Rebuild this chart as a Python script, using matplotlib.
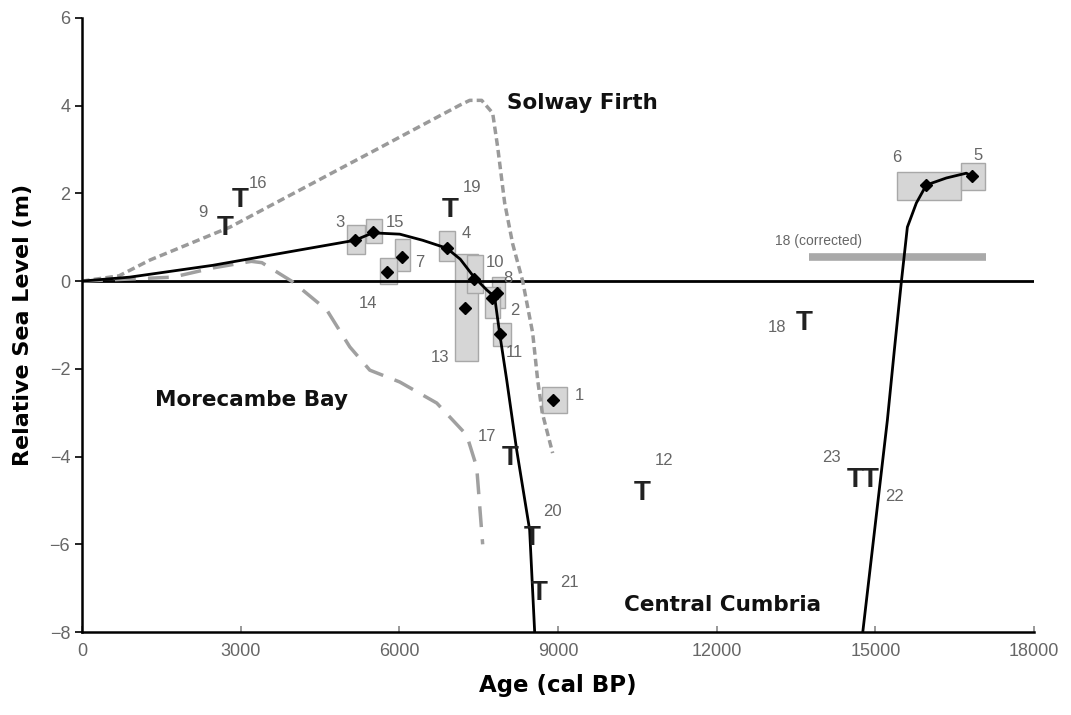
import numpy as np
import matplotlib
matplotlib.use("Agg")
import matplotlib.pyplot as plt
from matplotlib.patches import Rectangle

# curves (age cal BP, relative sea level m)
main_age = [0, 900, 2474, 4118, 5157, 5497, 6007, 6441, 6895, 7150, 7405, 7650, 7800, 7896, 8028, 8217, 8462, 8557]
main_rsl = [0, 0.09, 0.36, 0.71, 0.93, 1.10, 1.07, 0.93, 0.75, 0.50, 0.10, -0.20, -0.36, -1.20, -2.25, -3.85, -5.67, -8.0]

cumbria_age = [14760, 15225, 15357, 15489, 15603, 15773, 15961, 16339, 16717, 16830]
cumbria_rsl = [-8.0, -3.17, -1.57, -0.02, 1.23, 1.78, 2.19, 2.35, 2.46, 2.39]

solway_age = [0, 700, 1284, 2796, 5062, 5629, 7140, 7329, 7555, 7763, 7858, 7990, 8141, 8330, 8519, 8613, 8700, 8897]
solway_rsl = [0, 0.12, 0.48, 1.23, 2.68, 3.04, 4.01, 4.12, 4.12, 3.83, 3.05, 1.78, 0.85, 0.0, -1.18, -2.25, -3.0, -3.92]

morecambe_age = [0, 1719, 2474, 3200, 3400, 3986, 4628, 5062, 5440, 6007, 6706, 7272, 7461, 7574]
morecambe_rsl = [0, 0.09, 0.30, 0.45, 0.42, -0.02, -0.66, -1.50, -2.03, -2.30, -2.78, -3.51, -4.24, -6.0]

# index points: id, age, rsl, box age min/max, box rsl min/max
pt_id = ['3', '15', '7', '14', '4', '13', '10', '8', '2', '11', '1', '6', '5']
pt_age = [5157, 5497, 6045, 5761, 6895, 7235, 7405, 7839, 7745, 7896, 8897, 15961, 16830]
pt_rsl = [0.93, 1.12, 0.55, 0.20, 0.75, -0.62, 0.05, -0.27, -0.39, -1.21, -2.71, 2.19, 2.39]
box_a0 = [5006, 5365, 5912, 5629, 6744, 7046, 7272, 7745, 7612, 7763, 8689, 15414, 16623]
box_a1 = [5346, 5667, 6196, 5950, 7046, 7480, 7575, 7990, 7896, 8103, 9161, 16623, 17076]
box_r0 = [0.62, 0.87, 0.23, -0.07, 0.46, -1.82, -0.27, -0.62, -0.84, -1.48, -3.0, 1.85, 2.07]
box_r1 = [1.28, 1.41, 0.96, 0.52, 1.14, 0.62, 0.59, 0.09, -0.14, -0.96, -2.41, 2.48, 2.69]

# point label positions
lab_age = [4873, 5912, 6385, 5402, 7272, 6762, 7801, 8047, 8179, 8179, 9407, 15395, 16943]
lab_rsl = [1.34, 1.34, 0.43, -0.50, 1.09, -1.75, 0.43, 0.07, -0.66, -1.62, -2.60, 2.82, 2.87]

# limiting dates (T) and their labels
t_id = ['9', '16', '19', '17', '20', '21', '12', '18', '23', '22']
t_age = [2701, 2984, 6951, 8085, 8519, 8651, 10597, 13657, 14620, 14900]
t_rsl = [1.21, 1.85, 1.62, -4.03, -5.85, -7.10, -4.83, -0.96, -4.53, -4.53]
tl_age = [2286, 3324, 7367, 7650, 8897, 9218, 11012, 13147, 14167, 15357]
tl_rsl = [1.57, 2.23, 2.14, -3.55, -5.26, -6.88, -4.08, -1.05, -4.01, -4.92]

corr_age = [13751, 17094]
corr_rsl = 0.55

fig = plt.figure(figsize=(10.71, 7.15), dpi=100)
ax = fig.add_axes([0.0766, 0.116, 0.889, 0.859])

grey_txt = '#666666'

ax.axhline(0, color='black', lw=2, zorder=2)

for i in range(len(pt_id)):
    ax.add_patch(Rectangle((box_a0[i], box_r0[i]), box_a1[i] - box_a0[i], box_r1[i] - box_r0[i],
                           facecolor='#d6d6d6', edgecolor='#a8a8a8', lw=1, zorder=1))

ax.plot(corr_age, [corr_rsl, corr_rsl], color='#a9a9a9', lw=5.5, solid_capstyle='butt', zorder=1)
ax.text(np.mean(corr_age) - 1500, corr_rsl + 0.36, '18 (corrected)', fontsize=10, color=grey_txt,
        ha='center', va='center', family='Liberation Sans')

ax.plot(solway_age, solway_rsl, color='#9a9a9a', lw=2.5, ls=(0, (2.2, 1.2)), zorder=2)
ax.plot(morecambe_age, morecambe_rsl, color='#a0a0a0', lw=2.5, ls=(0, (6, 3.5)), zorder=2)
ax.plot(main_age, main_rsl, color='black', lw=2, zorder=3)
ax.plot(cumbria_age, cumbria_rsl, color='black', lw=2, zorder=3)

ax.plot(pt_age, pt_rsl, ls='none', marker='D', ms=6, color='black', zorder=4)

for i in range(len(pt_id)):
    ax.text(lab_age[i], lab_rsl[i], pt_id[i], fontsize=12, color=grey_txt,
            ha='center', va='center', family='Liberation Sans')

for i in range(len(t_id)):
    ax.text(t_age[i], t_rsl[i], 'T', fontsize=20, fontweight='bold', color='#222222',
            ha='center', va='center', family='Liberation Sans')
    ax.text(tl_age[i], tl_rsl[i], t_id[i], fontsize=12, color=grey_txt,
            ha='center', va='center', family='Liberation Sans')

ax.text(9464, 4.05, 'Solway Firth', fontsize=15.5, fontweight='bold', ha='center', va='center', color='#111111')
ax.text(3211, -2.71, 'Morecambe Bay', fontsize=15.5, fontweight='bold', ha='center', va='center', color='#111111')
ax.text(12108, -7.38, 'Central Cumbria', fontsize=15.5, fontweight='bold', ha='center', va='center', color='#111111')

ax.set_xlim(0, 18000)
ax.set_ylim(-8, 6)
ax.set_xticks(range(0, 18001, 3000))
ax.set_yticks(range(-8, 7, 2))
ax.spines['top'].set_visible(False)
ax.spines['right'].set_visible(False)
ax.spines['left'].set_linewidth(1.8)
ax.spines['bottom'].set_linewidth(1.8)
ax.tick_params(axis='y', direction='out', length=5, width=1.2, labelsize=13, labelcolor=grey_txt)
ax.tick_params(axis='x', direction='in', length=4, width=1.2, color='#888888', labelsize=13,
               labelcolor=grey_txt, pad=8)
for lab in ax.get_xticklabels() + ax.get_yticklabels():
    lab.set_family('Liberation Sans')

ax.set_xlabel('Age (cal BP)', fontsize=16.5, fontweight='bold', labelpad=10)
ax.set_ylabel('Relative Sea Level (m)', fontsize=16, fontweight='bold', labelpad=12)

fig.savefig('out.png', dpi=100)
